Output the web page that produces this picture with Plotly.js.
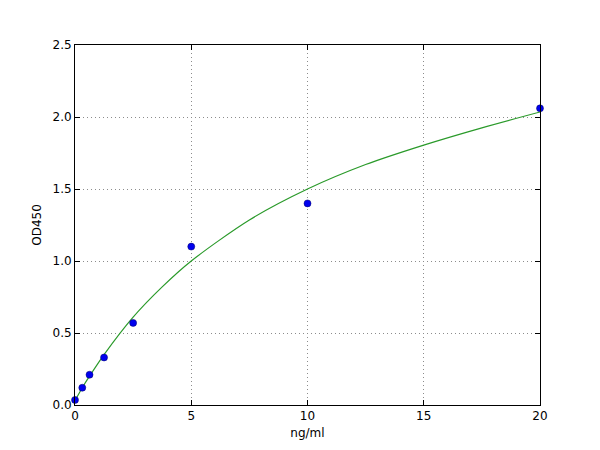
<!DOCTYPE html>
<html>
<head>
<meta charset="utf-8">
<script src="https://cdn.plot.ly/plotly-3.0.1.min.js"></script>
<style>
    html, body { margin: 0; padding: 0; background: #fff; }
    #chart { width: 600px; height: 450px; }
</style>
</head>
<body>
<div id="chart"></div>
<script>
// standard points (concentration vs optical density)
let std_conc = [0, 0.3125, 0.625, 1.25, 2.5, 5, 10, 20];
let std_od = [0.035, 0.12, 0.21, 0.33, 0.57, 1.10, 1.40, 2.06];

// fitted curve at a few concentrations
let fit_conc = [0, 0.3125, 0.625, 1.25, 2.5, 3.75, 5, 7.5, 10, 12.5, 15, 17.5, 20];
let fit_od = [0.03, 0.12, 0.20, 0.35, 0.61, 0.82, 1.00, 1.285, 1.50, 1.67, 1.805, 1.925, 2.035];

// tick labels
let x_ticks = [0, 5, 10, 15, 20];
let x_labels = ["0", "5", "10", "15", "20"];
let y_ticks = [0, 0.5, 1, 1.5, 2, 2.5];
let y_labels = ["0.0", "0.5", "1.0", "1.5", "2.0", "2.5"];

function display() {
    let root = document.getElementById("chart");

    let data = [
        {
            x: fit_conc,
            y: fit_od,
            type: "scatter",
            mode: "lines",
            line: {color: "#2a9a2a", width: 1.2, shape: "spline", smoothing: 0.8},
            hoverinfo: "skip"
        },
        {
            x: std_conc,
            y: std_od,
            type: "scatter",
            mode: "markers",
            marker: {color: "#0000ee", size: 7, line: {color: "#000066", width: 0.5}},
            cliponaxis: false,
            hoverinfo: "skip"
        }
    ];

    // shared axis look: black frame, inward ticks on all sides, dotted grid
    let axis = {
        showline: true,
        linecolor: "black",
        linewidth: 1,
        mirror: "ticks",
        ticks: "inside",
        ticklen: 5,
        tickcolor: "black",
        showgrid: true,
        gridcolor: "#8c8c8c",
        griddash: "1px,3px",
        gridwidth: 1,
        zeroline: false,
        fixedrange: true,
        tickfont: {family: "DejaVu Sans", size: 12, color: "black"}
    };

    let layout = {
        showlegend: false,
        paper_bgcolor: "white",
        plot_bgcolor: "white",
        width: 600,
        height: 450,
        margin: {l: 75, r: 60, t: 45, b: 45},
        font: {family: "DejaVu Sans", size: 12, color: "black"},
        xaxis: Object.assign({}, axis, {
            range: [0, 20],
            tickvals: x_ticks,
            ticktext: x_labels,
            title: {text: "ng/ml", font: {size: 12}, standoff: 6}
        }),
        yaxis: Object.assign({}, axis, {
            range: [0, 2.5],
            tickvals: y_ticks,
            ticktext: y_labels,
            title: {text: "OD450", font: {size: 12}, standoff: 8}
        })
    };

    let config = {displayModeBar: false, staticPlot: true};

    Plotly.newPlot(root, data, layout, config);
}

display();
</script>
</body>
</html>
